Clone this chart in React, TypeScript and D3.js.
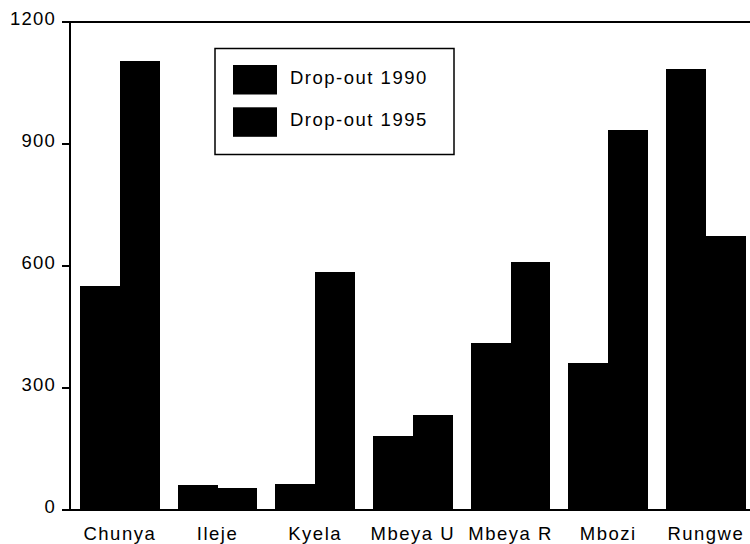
import React from "react";
import * as d3 from "d3";

const categories = ["Chunya", "Ileje", "Kyela", "Mbeya U", "Mbeya R", "Mbozi", "Rungwe"];
const dropout1990 = [551, 61, 64, 183, 410, 361, 1084];
const dropout1995 = [1104, 55, 585, 233, 611, 934, 674];
const seriesNames = ["Drop-out 1990", "Drop-out 1995"];
const yTicks = [0, 300, 600, 900, 1200];

const W = 750;
const H = 544;
const FONT = "'Liberation Sans', Arial, sans-serif";

export default function App() {
  const x = d3
    .scaleBand<string>()
    .domain(categories)
    .range([70, 755.7])
    .paddingInner(0.184)
    .paddingOuter(0.1024);
  const sub = d3
    .scaleBand<string>()
    .domain(seriesNames)
    .range([0, x.bandwidth()]);
  const y = d3.scaleLinear().domain([0, 1200]).range([510, 22]);
  const series = [dropout1990, dropout1995];

  return (
    <svg
      width={W}
      height={H}
      style={{ position: "absolute", left: 0, top: 0, background: "#fff" }}
    >
      {/* bars */}
      {categories.map((c, i) =>
        series.map((s, j) => (
          <rect
            key={c + j}
            x={(x(c) as number) + (sub(seriesNames[j]) as number)}
            y={y(s[i])}
            width={sub.bandwidth() + (j === 0 ? 0.6 : 0)}
            height={y(0) - y(s[i])}
            fill="#000"
            shapeRendering="crispEdges"
          />
        ))
      )}
      {/* axes */}
      <line x1={70} x2={70} y1={y(1200)} y2={y(0)} stroke="#000" strokeWidth={2} />
      <line x1={62} x2={W} y1={y(1200)} y2={y(1200)} stroke="#000" strokeWidth={2} />
      <line x1={62} x2={W} y1={y(0)} y2={y(0)} stroke="#000" strokeWidth={2} />
      {yTicks.map((t) => (
        <g key={t}>
          <line x1={62} x2={70} y1={y(t)} y2={y(t)} stroke="#000" strokeWidth={2} />
          <text
            x={56}
            y={y(t) + 3.3}
            textAnchor="end"
            fontFamily={FONT}
            fontSize={18.5}
            letterSpacing={1.2}
            fill="#000"
          >
            {t}
          </text>
        </g>
      ))}
      {categories.map((c) => (
        <text
          key={c}
          x={(x(c) as number) + x.bandwidth() / 2}
          y={540}
          textAnchor="middle"
          fontFamily={FONT}
          fontSize={18.5}
          letterSpacing={1.5}
          fill="#000"
        >
          {c}
        </text>
      ))}
      {/* legend */}
      <rect x={215} y={48.5} width={239} height={106} fill="#fff" stroke="#000" strokeWidth={1.5} />
      {seriesNames.map((n, j) => (
        <g key={n}>
          <rect x={233} y={65 + j * 42.3} width={44} height={29.5} fill="#000" />
          <text
            x={290}
            y={83.5 + j * 42}
            fontFamily={FONT}
            fontSize={18.5}
            letterSpacing={1.5}
            fill="#000"
          >
            {n}
          </text>
        </g>
      ))}
    </svg>
  );
}
